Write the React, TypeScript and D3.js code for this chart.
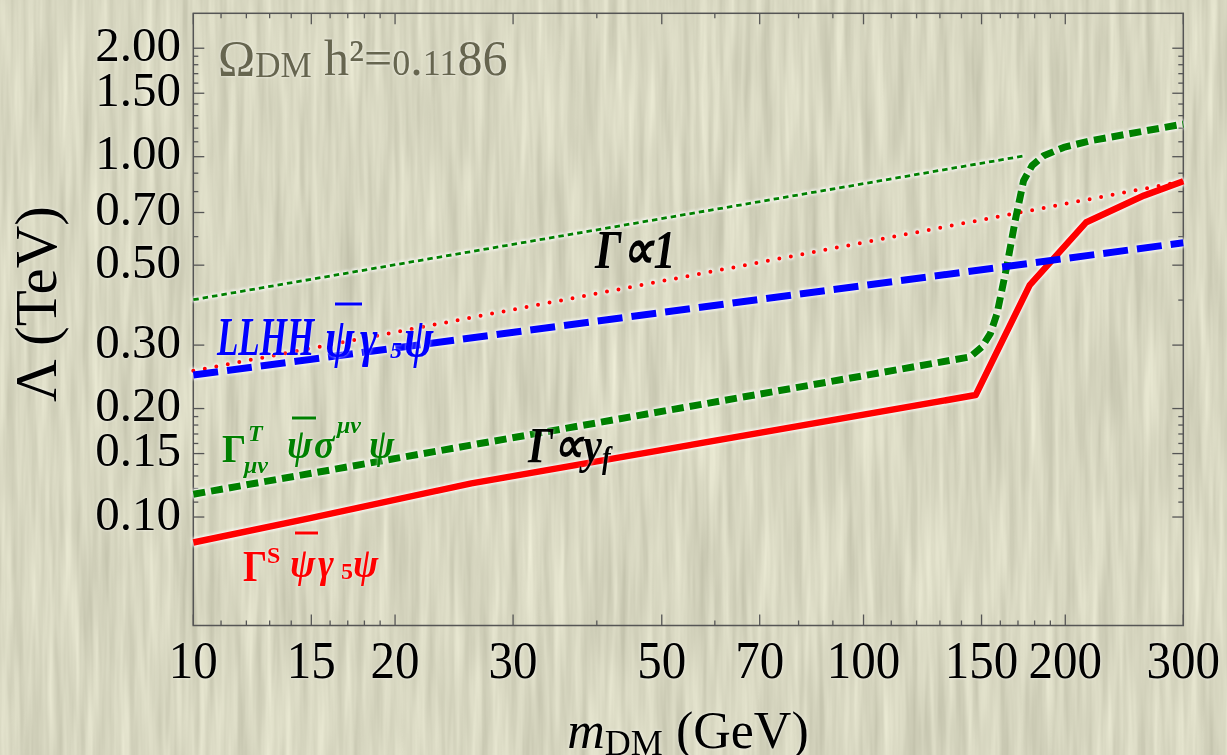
import React from "react";
import * as d3 from "d3";

// m_DM (GeV) and Lambda (TeV)
const massScalar = [10, 15, 26, 147, 177, 215, 262, 300];
const lamScalar = [0.085, 0.0995, 0.124, 0.218, 0.44, 0.658, 0.78, 0.855];

const massTensor = [10, 144.3, 150.2, 154.6, 158.2, 163.7, 168.4, 173.3, 178.4, 185.7, 198.9, 217.9, 300];
const lamTensor = [0.1157, 0.2783, 0.2966, 0.323, 0.3669, 0.4993, 0.665, 0.858, 0.944, 1.006, 1.061, 1.107, 1.232];

const massTensorOne = [10, 174];
const lamTensorOne = [0.401, 1.006];

const massScalarOne = [10, 300];
const lamScalarOne = [0.2545, 0.855];

const massLLHH = [10, 300];
const lamLLHH = [0.2477, 0.577];

const xMajor = [10, 15, 20, 30, 50, 70, 100, 150, 200, 300];
const xMinor = [11, 12, 13, 14, 16, 17, 18, 19, 40, 60, 80, 90, 110, 120, 130, 140, 160, 170, 180, 190];
const yMajor = [0.1, 0.15, 0.2, 0.3, 0.5, 0.7, 1, 1.5, 2];
const yMinor = [0.11, 0.12, 0.13, 0.14, 0.16, 0.17, 0.18, 0.19, 0.4, 0.6, 0.8, 0.9, 1.1, 1.2, 1.3, 1.4, 1.6, 1.7, 1.8, 1.9];

const W = 1227;
const H = 755;
const left = 193.3, right = 1183.3, top = 13.3, bottom = 625.5;

const serif = "'Liberation Serif', 'Times New Roman', serif";

export default function App() {
  const x = d3.scaleLog().domain([10, 300]).range([left, right]);
  const y = d3.scaleLog().domain([0.05, 2.5]).range([bottom, top]);

  const zip = (xs: number[], ys: number[]) => xs.map((v, i) => [v, ys[i]] as [number, number]);
  const line = d3.line<[number, number]>().x(d => x(d[0])).y(d => y(d[1]));

  const curves = [
    { d: line(zip(massTensorOne, lamTensorOne)), stroke: "#008000", w: 2.8, dash: "5.5,4", cap: "butt" },
    { d: line(zip(massScalarOne, lamScalarOne)), stroke: "#ff0000", w: 4, dash: "0,11.7", cap: "round" },
    { d: line(zip(massScalar, lamScalar)), stroke: "#ff0000", w: 6.5, dash: "none", cap: "butt" },
    { d: line(zip(massTensor, lamTensor)), stroke: "#008000", w: 7, dash: "12,6", cap: "butt" },
    { d: line(zip(massLLHH, lamLLHH)), stroke: "#0000ff", w: 7, dash: "25,9", cap: "butt" },
  ];

  const fmtY = d3.format(".2f");
  const axisCol = "#555";

  return (
    <svg width={W} height={H} style={{ position: "absolute", left: 0, top: 0, display: "block" }}>
      <defs>
        <filter id="paper" x="0" y="0" width={W} height={H} filterUnits="userSpaceOnUse" colorInterpolationFilters="sRGB">
          <feTurbulence type="fractalNoise" baseFrequency="0.11 0.006" numOctaves={3} seed={7} result="n" />
          <feColorMatrix in="n" type="matrix"
            values="0.2 0 0 0 0.745  0.2 0 0 0 0.742  0.2 0 0 0 0.655  0 0 0 0 1" />
        </filter>
        <filter id="glow" x="0" y="0" width={W} height={H} filterUnits="userSpaceOnUse" colorInterpolationFilters="sRGB">
          <feMorphology in="SourceAlpha" operator="dilate" radius="1.4" result="d" />
          <feGaussianBlur in="d" stdDeviation="1.7" result="b" />
          <feFlood floodColor="#ffffff" floodOpacity="0.95" />
          <feComposite in2="b" operator="in" result="g" />
          <feMerge>
            <feMergeNode in="g" />
            <feMergeNode in="SourceGraphic" />
          </feMerge>
        </filter>
        <filter id="glowSoft" x="0" y="0" width={W} height={H} filterUnits="userSpaceOnUse" colorInterpolationFilters="sRGB">
          <feGaussianBlur in="SourceAlpha" stdDeviation="1.8" result="b" />
          <feFlood floodColor="#ffffff" floodOpacity="0.75" />
          <feComposite in2="b" operator="in" result="g" />
          <feMerge>
            <feMergeNode in="g" />
            <feMergeNode in="SourceGraphic" />
          </feMerge>
        </filter>
      </defs>

      <rect x={0} y={0} width={W} height={H} fill="#d6d5bd" filter="url(#paper)" />

      {/* frame */}
      <rect x={left} y={top} width={right - left} height={bottom - top} fill="none" stroke={axisCol} strokeWidth={1.5} />

      {/* ticks on all four sides */}
      <g stroke={axisCol} strokeWidth={1.3}>
        {xMajor.map(t => (
          <g key={"xM" + t}>
            <line x1={x(t)} x2={x(t)} y1={bottom} y2={bottom - 11} />
            <line x1={x(t)} x2={x(t)} y1={top} y2={top + 11} />
          </g>
        ))}
        {xMinor.map(t => (
          <g key={"xm" + t}>
            <line x1={x(t)} x2={x(t)} y1={bottom} y2={bottom - 5} />
            <line x1={x(t)} x2={x(t)} y1={top} y2={top + 5} />
          </g>
        ))}
        {yMajor.map(t => (
          <g key={"yM" + t}>
            <line x1={left} x2={left + 11} y1={y(t)} y2={y(t)} />
            <line x1={right} x2={right - 11} y1={y(t)} y2={y(t)} />
          </g>
        ))}
        {yMinor.map(t => (
          <g key={"ym" + t}>
            <line x1={left} x2={left + 5} y1={y(t)} y2={y(t)} />
            <line x1={right} x2={right - 5} y1={y(t)} y2={y(t)} />
          </g>
        ))}
      </g>

      {/* tick labels */}
      <g fontFamily={serif} fontSize={49} fill="#000" filter="url(#glowSoft)">
        {xMajor.map(t => (
          <text key={"xl" + t} transform={`translate(${x(t)},678) scale(1,1.08)`} textAnchor="middle">{t}</text>
        ))}
        {yMajor.map(t => (
          <text key={"yl" + t} x={181} y={y(t) + 12.5} textAnchor="end">{fmtY(t)}</text>
        ))}
      </g>

      {/* axis titles */}
      <g fontFamily={serif} fill="#000" filter="url(#glowSoft)">
        <text x={688} y={748} fontSize={52} textAnchor="middle">
          <tspan fontStyle="italic">m</tspan>
          <tspan fontSize={36} dy={7}>DM</tspan>
          <tspan dy={-7}> (GeV)</tspan>
        </text>
        <text transform="translate(56,304) rotate(-90)" fontSize={59} textAnchor="middle">Λ (TeV)</text>
      </g>

      {/* curves */}
      <g fill="none" filter="url(#glow)">
        {curves.map((c, i) => (
          <path key={i} d={c.d || ""} stroke={c.stroke} strokeWidth={c.w}
            strokeDasharray={c.dash} strokeLinecap={c.cap as any} strokeLinejoin="round" />
        ))}
      </g>

      {/* relic density */}
      <text x={218} y={75} fontFamily={serif} fontSize={50} fill="#66654f" filter="url(#glowSoft)">
        Ω<tspan fontSize={35} dy={2}>DM</tspan><tspan dy={-2}> h²=</tspan>
        <tspan fontSize={36}>0</tspan>.<tspan fontSize={36}>11</tspan>86
      </text>

      {/* annotations */}
      <g fontFamily={serif} fontWeight="bold" filter="url(#glowSoft)">
        <text transform="translate(595,268) scale(1,1.25)" fontSize={44} fontStyle="italic" fill="#000">Γ∝1</text>
        <text transform="translate(528,462) scale(1,1.2)" fontSize={42} fontStyle="italic" fill="#000">
          Γ∝y<tspan fontSize={26} dy={5}>f</tspan>
        </text>

        <g fill="#0000ff" fontStyle="italic">
          <text transform="translate(217,355) scale(1,1.55)" fontSize={35}>LLHH</text>
          <text transform="translate(325,356) scale(1,1.25)" fontSize={44}>ψ</text>
          <text transform="translate(360,356) scale(1,1.25)" fontSize={42}>γ</text>
          <text x={390} y={358} fontSize={24}>5</text>
          <text transform="translate(404,356) scale(1,1.25)" fontSize={44}>ψ</text>
          <line x1={335} x2={362} y1={304} y2={304} stroke="#0000ff" strokeWidth={3} />
        </g>

        <g fill="#008000">
          <text transform="translate(222,462) scale(1,1.05)" fontSize={38}>Γ</text>
          <text x={248} y={441} fontSize={24} fontStyle="italic">T</text>
          <text x={244} y={473} fontSize={24} fontStyle="italic">μν</text>
          <text transform="translate(287,458) scale(1,1.1)" fontSize={38} fontStyle="italic">ψ</text>
          <text transform="translate(314,458) scale(1,1.1)" fontSize={38} fontStyle="italic">σ</text>
          <text x={337} y={433} fontSize={24} fontStyle="italic">μν</text>
          <text transform="translate(369,458) scale(1,1.1)" fontSize={38} fontStyle="italic">ψ</text>
          <line x1={292} x2={316} y1={418} y2={418} stroke="#008000" strokeWidth={3} />
        </g>

        <g fill="#ff0000">
          <text transform="translate(243,581) scale(1,1.15)" fontSize={38}>Γ</text>
          <text x={267} y={563} fontSize={24}>S</text>
          <text transform="translate(290,577) scale(1,1.1)" fontSize={38} fontStyle="italic">ψ</text>
          <text transform="translate(318,577) scale(1,1.1)" fontSize={38} fontStyle="italic">γ</text>
          <text x={341} y={579} fontSize={24}>5</text>
          <text transform="translate(353,577) scale(1,1.1)" fontSize={38} fontStyle="italic">ψ</text>
          <line x1={295} x2={318} y1={533} y2={533} stroke="#ff0000" strokeWidth={3} />
        </g>
      </g>
    </svg>
  );
}
